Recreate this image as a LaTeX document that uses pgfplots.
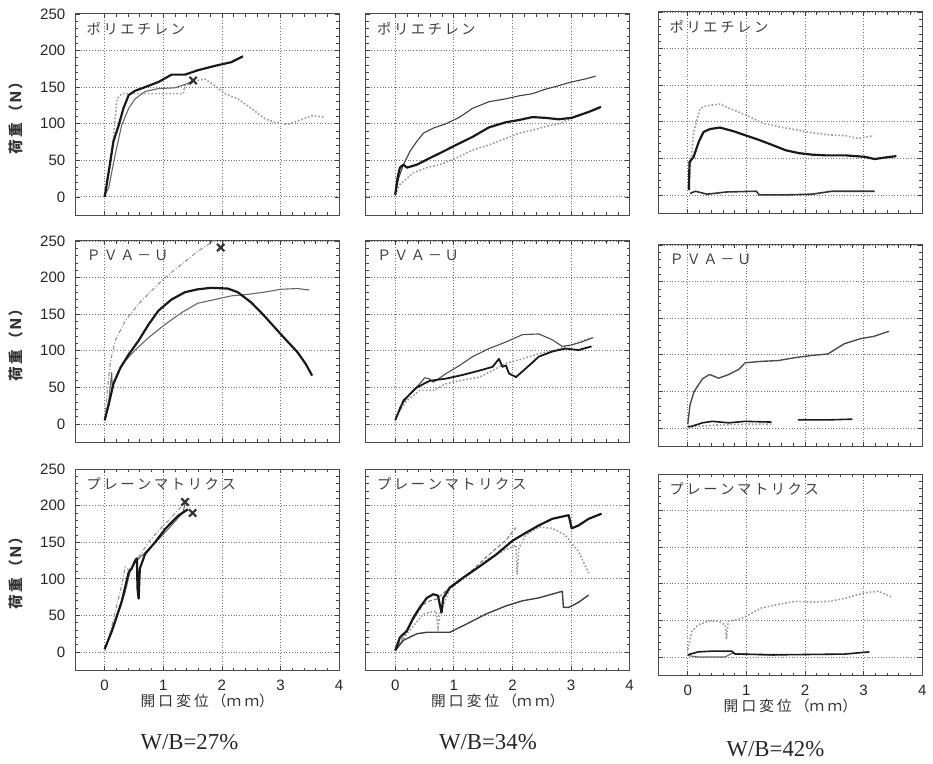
\documentclass[border=0pt]{standalone}
\usepackage{fontspec}
\usepackage{pgfplots}
\pgfplotsset{compat=1.18}
\setmainfont{Liberation Serif}
\newfontfamily\jp{Noto Sans CJK JP}
\newfontfamily\num{Liberation Sans}
\newcommand{\jsp}{\kern1.3pt}
\newcommand{\lsp}{\kern1.6pt}
\pgfplotsset{
 panel/.style={
  scale only axis, width=133pt, height=101.5pt,
  xmin=-0.5, xmax=4, ymin=-25, ymax=250,
  xtick={0,1,2,3,4}, ytick={0,50,100,150,200,250},
  minor x tick num=4, minor y tick num=4,
  tick align=inside, tick pos=both,
  major tick length=2.2pt, minor tick length=1.4pt,
  every tick/.style={black!75, line width=0.35pt},
  grid=major, major grid style={densely dotted, black!55, line width=0.4pt},
  axis line style={black!70, line width=0.5pt},
  /pgf/number format/assume math mode=true,
  ticklabel style={font=\num\fontsize{7.6}{8}\selectfont, text=black!85},
  yticklabel style={xshift=-1.5pt},
  xticklabel style={yshift=-1.2pt},
  xlabel style={font=\jp\fontsize{7.4}{8}\selectfont, text=black!80, at={(rel axis cs:0.5,0)}, anchor=center, yshift=-15.5pt},
  ylabel style={font=\jp\bfseries\fontsize{7.4}{8}\selectfont, text=black!80, at={(rel axis cs:-0.2256,0.5)}, anchor=center},
 },
 nox/.style={xticklabels={}},
 noy/.style={yticklabels={}},
 thk/.style={black!90, line width=1.1pt, line join=round},
 mid/.style={black!60, line width=0.55pt, line join=round},
 lgt/.style={black!40, line width=0.8pt, densely dotted},
 xm/.style={only marks, mark=x, mark size=2.6pt, mark options={black!80, line width=1.1pt}},
}
\newcommand{\ptitle}[1]{\node[anchor=west, font=\jp\fontsize{7.2}{8}\selectfont, text=black!75, inner sep=0pt] at (rel axis cs:0,1) [xshift=5.5pt, yshift=-7.5pt] {#1};}
\newcommand{\ylab}{荷\kern0.8pt 重\kern2pt （Ｎ）}
\newcommand{\xlab}{開\lsp 口\lsp 変\lsp 位\lsp （ｍ\lsp ｍ）}
\begin{document}
\begin{tikzpicture}
\path (0,0) rectangle (466.5pt,-381.5pt);
% ---------- Row 1 ----------
\begin{axis}[panel, nox, at={(38pt,-7pt)}, anchor=north west, ylabel={\ylab}]
\ptitle{ポ\jsp リ\jsp エ\jsp チ\jsp レ\jsp ン}
\addplot[lgt] coordinates {(0,0)(0.1,44)(0.15,80)(0.21,134)(0.29,141)(0.46,141)(1.34,141)(1.37,152)(1.59,159)(1.71,161)(1.88,152)(2.05,141)(2.27,134)(2.5,121)(2.73,107)(2.9,102)(3.12,99)(3.34,105)(3.54,111)(3.75,109)};
\addplot[mid] coordinates {(0,2)(0.07,13)(0.18,58)(0.29,98)(0.41,121)(0.52,134)(0.69,144)(0.92,148)(1.2,149)(1.42,155)(1.5,159)};
\addplot[thk] coordinates {(0,0)(0.07,35)(0.15,76)(0.24,98)(0.32,121)(0.41,139)(0.52,145)(0.69,150)(0.92,157)(1.14,167)(1.37,167)(1.59,173)(1.88,179)(2.16,184)(2.36,192)};
\addplot[xm] coordinates {(1.51,159)};
\end{axis}
\begin{axis}[panel, nox, noy, at={(184.5pt,-7pt)}, anchor=north west]
\ptitle{ポ\jsp リ\jsp エ\jsp チ\jsp レ\jsp ン}
\addplot[lgt] coordinates {(0,3)(0.08,17)(0.31,33)(0.54,40)(0.76,44)(1.04,53)(1.32,64)(1.6,71)(1.89,80)(2.11,87)(2.34,91)(2.56,96)(2.79,100)(3.01,107)(3.3,116)(3.49,121)};
\addplot[mid, black!75] coordinates {(0,3)(0.06,26)(0.14,44)(0.25,62)(0.37,76)(0.48,87)(0.65,94)(0.87,100)(1.1,109)(1.32,121)(1.6,130)(1.89,134)(2.11,138)(2.34,141)(2.56,147)(2.79,152)(3.01,157)(3.24,161)(3.42,165)};
\addplot[thk] coordinates {(0,3)(0.04,26)(0.08,40)(0.14,44)(0.2,40)(0.37,44)(0.59,53)(0.82,62)(1.04,71)(1.32,82)(1.6,95)(1.89,102)(2.11,105)(2.34,109)(2.56,108)(2.79,106)(3.01,108)(3.3,116)(3.51,123)};
\end{axis}
\begin{axis}[panel, nox, noy, at={(332pt,-6pt)}, anchor=north west]
\ptitle{ポ\jsp リ\jsp エ\jsp チ\jsp レ\jsp ン}
\addplot[lgt] coordinates {(0.02,14)(0.1,86)(0.21,118)(0.33,122)(0.55,124)(0.72,118)(1.0,109)(1.28,98)(1.56,93)(1.84,89)(2.12,85)(2.4,82)(2.69,81)(2.91,77)(3.17,81)};
\addplot[mid, black!80, line width=0.8pt] coordinates {(0.04,2)(0.13,5)(0.33,1)(0.66,4)(1.17,5)(1.22,0)(1.67,0)(2.12,1)(2.46,5)(3.19,5)};
\addplot[thk] coordinates {(0.02,7)(0.03,45)(0.1,52)(0.19,73)(0.27,86)(0.38,90)(0.55,92)(0.78,87)(1.0,81)(1.22,75)(1.45,68)(1.67,61)(1.9,57)(2.12,55)(2.35,54)(2.69,54)(3.02,52)(3.19,49)(3.36,51)(3.56,53)};
\end{axis}
% ---------- Row 2 ----------
\begin{axis}[panel, nox, at={(38pt,-121.5pt)}, anchor=north west, ylabel={\ylab}]
\ptitle{Ｐ\jsp Ｖ\jsp Ａ\jsp －\jsp Ｕ}
\addplot[lgt, dash pattern=on 2pt off 1pt on 0.5pt off 1pt, line width=0.6pt] coordinates {(0,5)(0.04,41)(0.1,86)(0.18,114)(0.35,141)(0.58,164)(0.8,182)(1.03,200)(1.31,218)(1.59,236)(1.88,251)};
\addplot[mid] coordinates {(0,5)(0.07,32)(0.12,70)(0.13,50)(0.15,55)(0.24,73)(0.35,86)(0.52,101)(0.75,118)(1.03,136)(1.31,152)(1.59,165)(1.88,170)(2.16,175)(2.44,177)(2.72,180)(3.0,184)(3.29,185)(3.49,183)};
\addplot[thk] coordinates {(0,5)(0.07,27)(0.15,55)(0.27,77)(0.41,95)(0.58,114)(0.75,136)(0.92,155)(1.14,170)(1.37,180)(1.59,184)(1.82,186)(2.1,185)(2.27,180)(2.5,166)(2.72,148)(3.0,123)(3.29,98)(3.43,82)(3.54,66)};
\addplot[xm] coordinates {(1.98,241)};
\end{axis}
\begin{axis}[panel, nox, noy, at={(184.5pt,-121.5pt)}, anchor=north west]
\ptitle{Ｐ\jsp Ｖ\jsp Ａ\jsp －\jsp Ｕ}
\addplot[lgt] coordinates {(0,9)(0.2,32)(0.42,46)(0.65,46)(0.87,55)(1.15,60)(1.44,64)(1.66,73)(1.89,83)(2.17,89)(2.45,96)(2.73,101)(3.01,108)(3.24,115)(3.35,118)};
\addplot[mid, black!70] coordinates {(0,5)(0.08,23)(0.25,41)(0.42,55)(0.5,63)(0.58,62)(0.65,57)(0.87,69)(1.1,80)(1.32,92)(1.6,103)(1.89,112)(2.17,122)(2.45,123)(2.68,115)(2.85,106)(3.01,108)(3.18,112)(3.38,118)};
\addplot[thk, line width=0.9pt] coordinates {(0,5)(0.14,32)(0.37,50)(0.59,59)(0.87,62)(1.15,67)(1.44,73)(1.66,78)(1.77,89)(1.83,78)(1.89,80)(1.94,69)(2.06,64)(2.23,76)(2.45,92)(2.68,99)(2.9,103)(3.13,101)(3.35,106)};
\end{axis}
\begin{axis}[panel, nox, noy, at={(332pt,-123.5pt)}, anchor=north west]
\ptitle{Ｐ\jsp Ｖ\jsp Ａ\jsp －\jsp Ｕ}
\addplot[lgt] coordinates {(0,1)(0.5,4)(1.0,5)(1.43,5)};
\addplot[mid, black!70, line width=0.7pt] coordinates {(0,5)(0.04,32)(0.11,50)(0.25,67)(0.37,73)(0.53,68)(0.7,73)(0.87,80)(0.98,89)(1.26,91)(1.54,92)(1.83,96)(2.11,99)(2.39,101)(2.67,115)(2.95,122)(3.17,125)(3.43,132)};
\addplot[thk, line width=0.8pt] coordinates {(0,2)(0.06,2)(0.25,7)(0.42,9)(0.7,7)(0.98,9)(1.43,8)};
\addplot[thk, line width=0.8pt] coordinates {(1.88,11)(2.11,11)(2.39,11)(2.81,12)};
\end{axis}
% ---------- Row 3 ----------
\begin{axis}[panel, at={(38pt,-236.5pt)}, anchor=north west, ylabel={\ylab}, xlabel={\xlab}]
\ptitle{プ\jsp レ\jsp ー\jsp ン\jsp マ\jsp ト\jsp リ\jsp ク\jsp ス}
\addplot[lgt, dash pattern=on 2pt off 1pt on 0.5pt off 1pt, line width=0.6pt] coordinates {(0,1)(0.1,28)(0.18,55)(0.29,91)(0.35,116)(0.41,112)(0.46,116)(0.58,130)(0.75,150)(0.92,166)(1.14,184)(1.37,204)(1.45,209)};
\addplot[mid] coordinates {(0,6)(0.15,33)(0.35,82)(0.44,112)(0.52,123)(0.69,136)(0.92,154)(1.14,173)(1.34,191)(1.37,203)};
\addplot[thk] coordinates {(0,4)(0.12,28)(0.29,69)(0.41,109)(0.46,114)(0.52,125)(0.55,128)(0.56,87)(0.58,73)(0.6,114)(0.69,134)(0.86,150)(1.03,168)(1.25,186)(1.42,195)};
\addplot[xm] coordinates {(1.37,205)(1.5,190)};
\end{axis}
\begin{axis}[panel, noy, at={(184.5pt,-236.5pt)}, anchor=north west, xlabel={\xlab}]
\ptitle{プ\jsp レ\jsp ー\jsp ン\jsp マ\jsp ト\jsp リ\jsp ク\jsp ス}
\addplot[lgt] coordinates {(0,2)(0.2,25)(0.48,52)(0.7,56)(0.73,34)(0.76,52)(0.93,86)(1.32,110)(1.6,128)(1.89,140)(2.06,146)(2.08,106)(2.11,142)(2.23,160)(2.45,171)(2.68,169)(2.9,160)(3.13,137)(3.3,108)};
\addplot[mid, black!50, dash pattern=on 2pt off 1pt] coordinates {(0,2)(0.2,29)(0.37,52)(0.48,65)(0.59,70)(0.7,72)(0.93,88)(1.32,112)(1.6,133)(1.89,153)(2.06,170)};
\addplot[mid, black!75, line width=0.7pt] coordinates {(0,2)(0.14,16)(0.37,25)(0.54,27)(0.93,27)(1.21,38)(1.55,52)(1.89,63)(2.17,70)(2.45,74)(2.85,83)(2.87,61)(2.96,61)(3.13,68)(3.3,78)};
\addplot[thk] coordinates {(0,2)(0.08,20)(0.2,29)(0.31,47)(0.42,61)(0.54,74)(0.65,79)(0.73,77)(0.76,65)(0.79,54)(0.82,74)(0.93,88)(1.15,101)(1.44,117)(1.72,133)(2.0,152)(2.23,163)(2.45,173)(2.68,182)(2.96,187)(3.01,169)(3.13,173)(3.3,182)(3.52,189)};
\end{axis}
\begin{axis}[panel, noy, at={(332pt,-239pt)}, anchor=north west, xlabel={\xlab}]
\ptitle{プ\jsp レ\jsp ー\jsp ン\jsp マ\jsp ト\jsp リ\jsp ク\jsp ス}
\addplot[lgt] coordinates {(0,10)(0.07,35)(0.18,44)(0.35,49)(0.52,49)(0.64,44)(0.66,24)(0.69,49)(0.86,51)(0.98,55)(1.26,67)(1.55,72)(1.83,76)(2.11,75)(2.4,76)(2.68,80)(2.97,87)(3.25,90)(3.47,82)};
\addplot[mid] coordinates {(0,2)(0.18,0)(0.64,0)(0.75,5)(1.49,2)};
\addplot[thk, line width=0.8pt] coordinates {(0,3)(0.18,7)(0.41,8)(0.75,8)(0.81,4)(1.55,3)(2.68,4)(3.1,7)};
\end{axis}
% ---------- W/B captions ----------
\node[font=\fontsize{11.5}{13}\selectfont, text=black!85] at (95.5pt,-374pt) {W/B=27\%};
\node[font=\fontsize{11.5}{13}\selectfont, text=black!85] at (246pt,-374pt) {W/B=34\%};
\node[font=\fontsize{11.5}{13}\selectfont, text=black!85] at (391pt,-377.5pt) {W/B=42\%};
\end{tikzpicture}
\end{document}
